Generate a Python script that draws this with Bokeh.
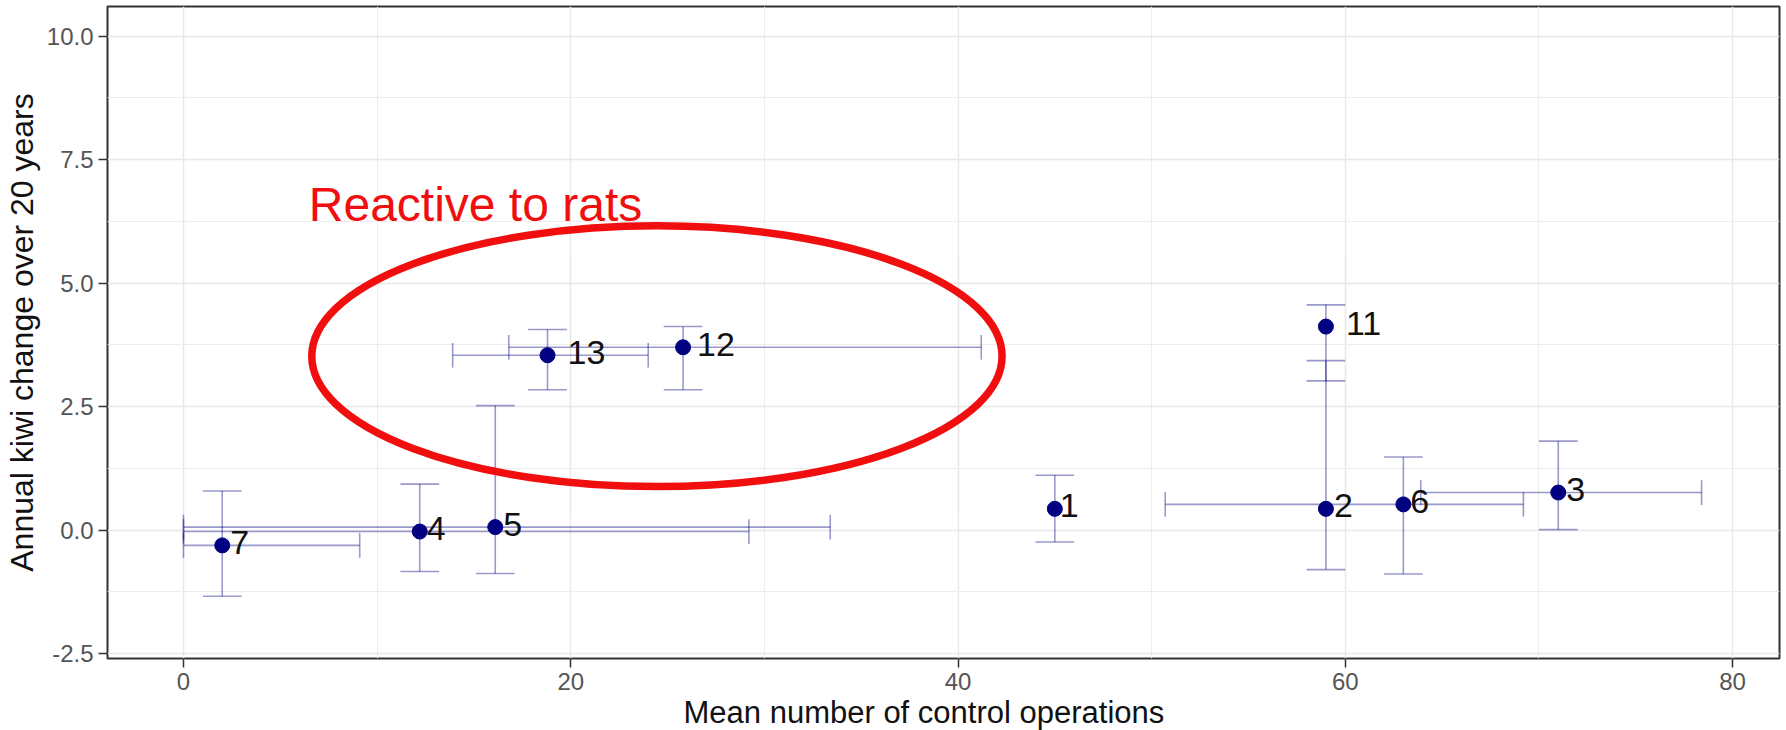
from bokeh.plotting import figure
from bokeh.models import Range1d, FixedTicker, Label, Title, ColumnDataSource
from bokeh.core.properties import value
from bokeh.embed import file_html
from bokeh.resources import INLINE

# Site numbers and their summary statistics
site = ["1", "2", "3", "4", "5", "6", "7", "11", "12", "13"]
ops_mean = [45.0, 59.0, 71.0, 12.2, 16.1, 63.0, 2.0, 59.0, 25.8, 18.8]
ops_low = [None, None, 63.9, 0.0, 0.0, 50.7, 0.0, None, 16.8, 13.9]
ops_high = [None, None, 78.4, 29.2, 33.4, 69.2, 9.1, None, 41.2, 24.0]
kiwi_change = [0.43, 0.43, 0.76, -0.03, 0.06, 0.52, -0.31, 4.12, 3.70, 3.54]
kiwi_low = [-0.24, -0.80, 0.01, -0.84, -0.88, -0.89, -1.34, 3.02, 2.84, 2.84]
kiwi_high = [1.11, 3.43, 1.80, 0.93, 2.52, 1.48, 0.79, 4.56, 4.12, 4.06]

x_ticks = [0, 20, 40, 60, 80]
x_tick_labels = ["0", "20", "40", "60", "80"]
x_minor = [10, 30, 50, 70]
y_ticks = [-2.5, 0.0, 2.5, 5.0, 7.5, 10.0]
y_tick_labels = ["-2.5", "0.0", "2.5", "5.0", "7.5", "10.0"]
y_minor = [-1.25, 1.25, 3.75, 6.25, 8.75]

x_title = "Mean number of control operations"
y_title = "Annual kiwi change over 20 years"

# label nudges (screen px) so the site numbers sit just right of each point
label_dx = [5, 8, 8, 7, 8, 7, 8, 20, 14, 20]

FONT = "Liberation Sans"
BAR_COLOR = "navy"
BAR_ALPHA = 0.4
CAP_W = 2.0      # cap width of vertical bars (x units)
CAP_H = 0.5      # cap height of horizontal bars (y units)
HL_RED = "#F00E0E"

p = figure(width=1786, height=730,
           x_range=Range1d(-3.925, 82.425), y_range=Range1d(-2.6, 10.6),
           output_backend="svg", toolbar_location=None,
           min_border_left=105, min_border_right=7,
           min_border_top=6, min_border_bottom=72)

p.background_fill_color = "white"
p.border_fill_color = "white"
p.outline_line_color = "#333333"
p.outline_line_width = 2

# grid
p.xaxis.ticker = FixedTicker(ticks=x_ticks, minor_ticks=x_minor)
p.yaxis.ticker = FixedTicker(ticks=y_ticks, minor_ticks=y_minor)
p.xaxis.major_label_overrides = {float(t): s for t, s in zip(x_ticks, x_tick_labels)}
p.yaxis.major_label_overrides = {float(t): s for t, s in zip(y_ticks, y_tick_labels)}
for g in (p.xgrid, p.ygrid):
    g.grid_line_color = "#E8E8E8"
    g.grid_line_width = 1.5
    g.minor_grid_line_color = "#EDEDED"
    g.minor_grid_line_width = 1

# axes
for ax in (p.xaxis, p.yaxis):
    ax.axis_line_color = None
    ax.major_tick_line_color = "#333333"
    ax.major_tick_line_width = 1.5
    ax.major_tick_out = 9
    ax.major_tick_in = 0
    ax.minor_tick_line_color = None
    ax.major_label_text_font = FONT
    ax.major_label_text_font_size = "24px"
    ax.major_label_text_color = "#555555"
    ax.major_label_standoff = 5
    ax.axis_label_text_font = FONT
    ax.axis_label_text_font_size = "32px"
    ax.axis_label_text_font_style = "normal"
    ax.axis_label_text_color = "#111111"

p.yaxis.axis_label = y_title
p.yaxis.axis_label_standoff = 4

# x title below the axis, set a little left of the frame centre
p.add_layout(Title(text=x_title, align="left", offset=576, standoff=0,
                   text_font=FONT, text_font_size="31px",
                   text_font_style="normal", text_color="#111111"), "below")

# vertical error bars with caps
vx0, vy0, vx1, vy1 = [], [], [], []
for x, lo, hi in zip(ops_mean, kiwi_low, kiwi_high):
    vx0 += [x, x - CAP_W / 2, x - CAP_W / 2]
    vx1 += [x, x + CAP_W / 2, x + CAP_W / 2]
    vy0 += [lo, lo, hi]
    vy1 += [hi, lo, hi]
p.segment(x0=vx0, y0=vy0, x1=vx1, y1=vy1,
          line_color=BAR_COLOR, line_alpha=BAR_ALPHA, line_width=1.6)

# horizontal error bars with caps
hx0, hy0, hx1, hy1 = [], [], [], []
for y, lo, hi in zip(kiwi_change, ops_low, ops_high):
    if lo is None:
        continue
    hx0 += [lo, lo, hi]
    hx1 += [hi, lo, hi]
    hy0 += [y, y - CAP_H / 2, y - CAP_H / 2]
    hy1 += [y, y + CAP_H / 2, y + CAP_H / 2]
p.segment(x0=hx0, y0=hy0, x1=hx1, y1=hy1,
          line_color=BAR_COLOR, line_alpha=BAR_ALPHA, line_width=1.6)

src = ColumnDataSource(dict(x=ops_mean, y=kiwi_change, site=site, dx=label_dx))
p.scatter("x", "y", source=src, size=15, marker="circle",
          fill_color="#000080", line_color="#000080")
p.text("x", "y", text="site", source=src, x_offset="dx", y_offset=-3,
       text_font=value(FONT), text_font_size="34px", text_color="#111111",
       text_align="left", text_baseline="middle")

# highlight of the rat-reactive sites
p.ellipse(x=[24.45], y=[3.52], width=35.65, height=5.28,
          fill_color=None, line_color=HL_RED, line_width=7.5)
p.add_layout(Label(x=6.47, y=6.60, text="Reactive to rats",
                   text_font=FONT, text_font_size="48px",
                   text_color=HL_RED, text_align="left",
                   text_baseline="alphabetic"))

open("out.html", "w").write(file_html(p, INLINE))
